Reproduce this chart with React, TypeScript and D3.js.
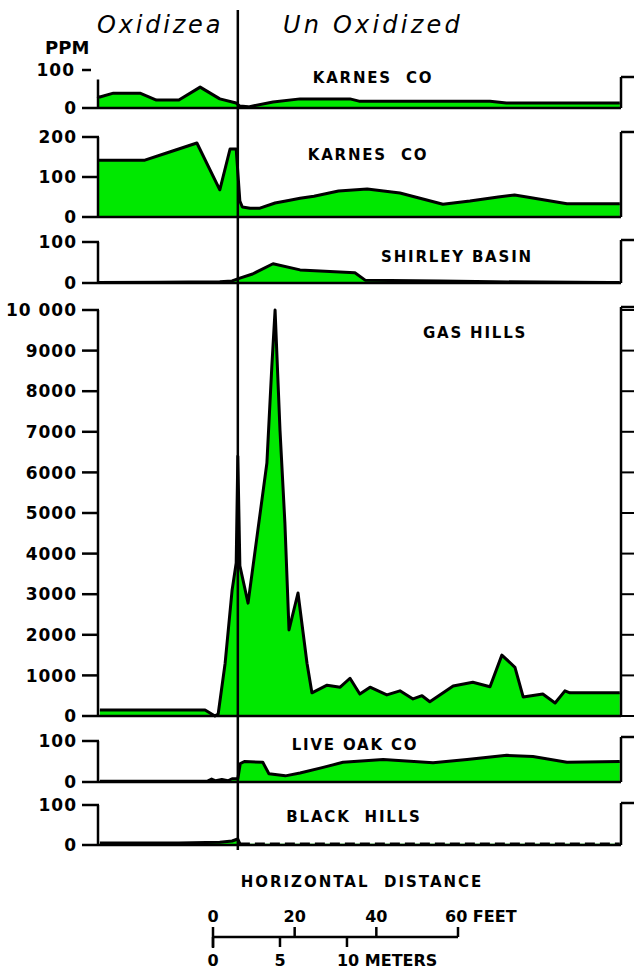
import * as d3 from "d3";

// distance along the section, feet from the left edge of the plot
const frontFt = 34.4;

const karnesA = [
  [0, 30], [0.7, 29], [4, 39], [10.5, 39], [14.5, 21], [20, 21], [25.2, 55], [30, 24],
  [34, 13], [34.9, 5], [37, 3], [43, 16], [49.6, 24], [61.8, 24], [64, 18], [96, 18],
  [100, 13], [127.7, 13],
];
const karnesB = [
  [0, 142], [11.7, 142], [17, 160], [24.4, 185], [30, 68], [32.5, 170], [34, 170],
  [34.9, 40], [35.5, 25], [37.4, 22], [39.8, 22], [43.5, 35], [47.1, 42], [49.6, 47],
  [53, 52], [59, 65], [66, 70], [74, 60], [84.5, 32], [91.1, 40], [98, 50], [102, 55],
  [105, 50], [114.8, 33], [127.7, 33],
];
const shirley = [
  [0, 1], [15, 2], [30, 3], [33, 5], [34.9, 12], [38, 22], [43, 47], [49.6, 32], [63, 25],
  [65.5, 7], [83.8, 5], [97, 3], [125.3, 1], [127.7, 1],
];
const gasHills = [
  [0.7, 150], [26.4, 150], [28.8, 0], [29.6, 50], [31.3, 1300], [33, 3100], [34, 3770],
  [34.4, 6400], [34.9, 3700], [36.9, 2780], [39.3, 4580], [41.5, 6230], [42.7, 8600],
  [43.5, 10000], [44.7, 7040], [45.9, 4750], [46.9, 2120], [49.1, 3030], [51.3, 1300],
  [52.5, 570], [56.2, 760], [59.4, 710], [61.8, 930], [64.2, 540], [66.7, 710], [70.8, 520],
  [74, 620], [77.2, 420], [79.4, 500], [81.3, 350], [87, 740], [91.8, 830], [96, 720],
  [98.9, 1500], [102.1, 1200], [104.1, 470], [108.9, 540], [111.9, 320], [114.3, 620],
  [115.5, 570], [127.7, 570],
];
const liveOak = [
  [0.7, 2], [27, 2], [28, 7], [29, 3], [30.5, 6], [32, 3], [33, 8], [34.4, 8], [35, 45],
  [36, 50], [40.5, 48], [42, 20], [46, 15], [49.6, 22], [55, 35], [60.1, 48], [69.9, 55],
  [82.1, 47], [90.4, 55], [100.1, 65], [106.5, 62], [114.8, 48], [127.7, 50],
];
const blackHills = [
  [0.7, 5], [20, 5], [30, 7], [33, 10], [34.4, 15], [34.9, 3], [127.7, 3],
];

const gasTicks = [0, 1000, 2000, 3000, 4000, 5000, 6000, 7000, 8000, 9000, 10000];
const gasTickLabels = ["0", "1000", "2000", "3000", "4000", "5000", "6000", "7000", "8000", "9000", "10 000"];

const feetTicks = [0, 20, 40, 60];
const meterTicks = [0, 5, 10];

const panels = [
  { label: "KARNES  CO", data: karnesA, max: 100, y0: 108, yTop: 70, ticks: [0, 100], tickLabels: ["0", "100"], axisFrom: 75, lx: 373, ly: 83, rTop: 77 },
  { label: "KARNES  CO", data: karnesB, max: 200, y0: 217, yTop: 137, ticks: [0, 100, 200], tickLabels: ["0", "100", "200"], lx: 368, ly: 160, rTop: 132 },
  { label: "SHIRLEY BASIN", data: shirley, max: 100, y0: 283, yTop: 242, ticks: [0, 100], tickLabels: ["0", "100"], lx: 457, ly: 262, rTop: 240 },
  { label: "GAS HILLS", data: gasHills, max: 10000, y0: 716, yTop: 310, ticks: gasTicks, tickLabels: gasTickLabels, lx: 475, ly: 338, rTop: 307, rTicks: true },
  { label: "LIVE OAK CO", data: liveOak, max: 100, y0: 782, yTop: 741, ticks: [0, 100], tickLabels: ["0", "100"], lx: 355, ly: 750, rTop: 737 },
  { label: "BLACK  HILLS", data: blackHills, max: 100, y0: 845, yTop: 805, ticks: [0, 100], tickLabels: ["0", "100"], lx: 354, ly: 822, rTop: 803, dashedAfter: true },
];

const GREEN = "#00e800";
const FONT = "'DejaVu Sans', sans-serif";

export default function App() {
  const x = d3.scaleLinear().domain([0, 128]).range([97, 621]);
  const xFeet = d3.scaleLinear().domain([0, 60]).range([213, 458]);
  const xAxisLeft = 98;
  const xRight = 621;

  return (
    <svg width={634} height={969} style={{ position: "absolute", left: 0, top: 0, background: "#fff" }}>
      {/* titles */}
      <text x={97} y={33} fontFamily={FONT} fontStyle="italic" fontSize={24} letterSpacing={2.8}>Oxidizea</text>
      <text x={283} y={33} fontFamily={FONT} fontStyle="italic" fontSize={24} letterSpacing={3.2}>Un Oxidized</text>
      <text x={45} y={54} fontFamily={FONT} fontWeight="bold" fontSize={18}>PPM</text>

      {panels.map((p, i) => {
        const y = d3.scaleLinear().domain([0, p.max]).range([p.y0, p.yTop]);
        const area = d3.area<number[]>().x(d => x(d[0])).y0(p.y0).y1(d => y(d[1]));
        const line = d3.line<number[]>().x(d => x(d[0])).y(d => y(d[1]));
        const solid = p.dashedAfter ? p.data.filter(d => d[0] <= frontFt + 0.6) : p.data;
        const dashed = p.dashedAfter ? p.data.filter(d => d[0] >= frontFt + 0.4) : [];
        const axisTopY = p.axisFrom !== undefined ? y(p.axisFrom) : p.yTop;
        return (
          <g key={i}>
            <path d={area(p.data) || ""} fill={GREEN} />
            <path d={line(solid) || ""} fill="none" stroke="#000" strokeWidth={3} strokeLinejoin="round" />
            {dashed.length > 0 && (
              <path d={line(dashed) || ""} fill="none" stroke="#000" strokeWidth={2.5} strokeDasharray="10 5" />
            )}
            {/* baseline */}
            <line x1={82} x2={xRight} y1={p.y0} y2={p.y0} stroke="#000" strokeWidth={2.5} />
            {/* left axis */}
            <line x1={xAxisLeft} x2={xAxisLeft} y1={axisTopY} y2={p.y0} stroke="#000" strokeWidth={2.5} />
            {p.ticks.map((t, j) => (
              <g key={j}>
                {t > 0 && (
                  <line x1={82} x2={p.axisFrom !== undefined ? 91 : xAxisLeft + 1} y1={y(t)} y2={y(t)} stroke="#000" strokeWidth={2.5} />
                )}
                <text x={p.axisFrom !== undefined && t > 0 ? 75 : 77} y={y(t)} dy="0.36em" textAnchor="end"
                  fontFamily={FONT} fontWeight="bold" fontSize={17} letterSpacing={1}>{p.tickLabels[j]}</text>
              </g>
            ))}
            {/* right bracket */}
            <line x1={xRight} x2={xRight} y1={p.rTop} y2={p.y0} stroke="#000" strokeWidth={2.5} />
            <line x1={xRight} x2={634} y1={p.rTop} y2={p.rTop} stroke="#000" strokeWidth={2.5} />
            {p.rTicks && p.ticks.map((t, j) => (
              <line key={j} x1={xRight} x2={634} y1={y(t)} y2={y(t)} stroke="#000" strokeWidth={2} />
            ))}
            <text x={p.lx} y={p.ly} textAnchor="middle" fontFamily={FONT} fontWeight="bold" fontSize={15} letterSpacing={1.8}
              style={{ whiteSpace: "pre" }}>{p.label}</text>
          </g>
        );
      })}

      {/* oxidation front */}
      <line x1={x(frontFt)} x2={x(frontFt)} y1={10} y2={850} stroke="#000" strokeWidth={2.5} />

      {/* distance scale */}
      <text x={362} y={887} textAnchor="middle" fontFamily={FONT} fontWeight="bold" fontSize={15} letterSpacing={2}
        style={{ whiteSpace: "pre" }}>HORIZONTAL  DISTANCE</text>
      <line x1={xFeet(0)} x2={xFeet(60)} y1={937} y2={937} stroke="#000" strokeWidth={2.5} />
      {feetTicks.map((t, j) => (
        <g key={j}>
          <line x1={xFeet(t)} x2={xFeet(t)} y1={927} y2={t === 0 ? 948 : 937} stroke="#000" strokeWidth={2.5} />
          <text x={t === 60 ? xFeet(t) - 13 : xFeet(t)} y={922} textAnchor={t === 60 ? "start" : "middle"}
            fontFamily={FONT} fontWeight="bold" fontSize={16}>{t === 60 ? "60 FEET" : String(t)}</text>
        </g>
      ))}
      {meterTicks.map((m, j) => (
        <g key={j}>
          <line x1={xFeet(m * 3.2808)} x2={xFeet(m * 3.2808)} y1={937} y2={947} stroke="#000" strokeWidth={2.5} />
          <text x={m === 10 ? xFeet(m * 3.2808) - 10 : xFeet(m * 3.2808)} y={966} textAnchor={m === 10 ? "start" : "middle"}
            fontFamily={FONT} fontWeight="bold" fontSize={16}>{m === 10 ? "10 METERS" : String(m)}</text>
        </g>
      ))}
    </svg>
  );
}
